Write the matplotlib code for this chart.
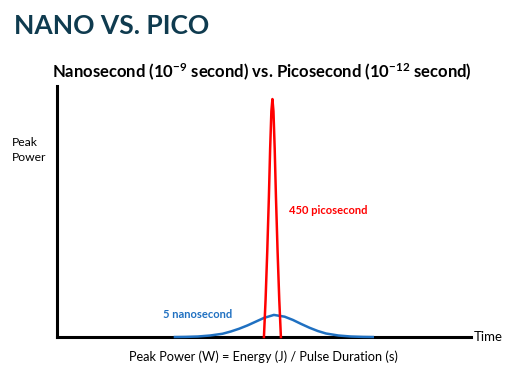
import numpy as np
import matplotlib.pyplot as plt

plt.rcParams['font.family'] = ['Lato', 'DejaVu Sans']
plt.rcParams['mathtext.fontset'] = 'custom'
plt.rcParams['mathtext.rm'] = 'Lato'
plt.rcParams['mathtext.bf'] = 'Lato:bold'

# pulse shapes (time axis 0-100, power axis 0-100)
nano_t = [28.5, 31, 34, 37, 40, 42, 44, 46, 48, 50, 52.4, 55, 57, 59, 61, 63, 65, 68, 71, 74, 76.3]
nano_p = [0.0, 0.05, 0.2, 0.6, 1.3, 2.2, 3.3, 4.6, 6.1, 7.6, 8.8, 8.1, 6.8, 5.2, 3.7, 2.4, 1.4, 0.6, 0.2, 0.05, 0.0]

pico_t = [50.0, 50.4, 50.8, 51.2, 51.5, 51.8, 52.05, 52.3, 52.6, 52.9, 53.3, 53.7, 54.1]
pico_p = [0.0, 15, 34, 56, 75, 90, 94.8, 90, 75, 56, 34, 15, 0.0]

nano_label = '5 nanosecond'
pico_label = '450 picosecond'

fig = plt.figure(figsize=(5.16, 3.67), dpi=100)
ax = fig.add_axes([0.1105, 0.0817, 0.802, 0.684])

ax.plot(nano_t, nano_p, c='#1F70C1', lw=1.8, zorder=3, clip_on=False)
ax.plot(pico_t, pico_p, c='#FF0000', lw=1.8, zorder=4, clip_on=False)

ax.set_xlim(0, 100)
ax.set_ylim(0, 100)
ax.set_xticks([]); ax.set_yticks([])
for s in ['top', 'right']:
    ax.spines[s].set_visible(False)
for s in ['left', 'bottom']:
    ax.spines[s].set_linewidth(2.2)
    ax.spines[s].set_color('black')

ax.text(56, 50.5, pico_label, color='#FF0000', fontsize=8, fontweight='bold', va='center', ha='left')
ax.text(25.5, 9, nano_label, color='#1F70C1', fontsize=8, fontweight='bold', va='center', ha='left')

fig.text(14/516, 1 - 26/367, 'NANO VS. PICO', fontsize=19, fontweight='bold',
         color='#0F3B4F', va='center', ha='left')
fig.text(262/516, 1 - 72/367,
         r'Nanosecond ($\mathbf{10^{-9}}$ second) vs. Picosecond ($\mathbf{10^{-12}}$ second)',
         fontsize=12, fontweight='bold', ha='center', va='center')
fig.text(12/516, 1 - 150/367, 'Peak\nPower', fontsize=8.7, ha='left', va='center', linespacing=1.5)
fig.text(474/516, 1 - 337/367, 'Time', fontsize=9.5, ha='left', va='center')
fig.text(263/516, 1 - 357/367, 'Peak Power (W) = Energy (J) / Pulse Duration (s)',
         fontsize=9.2, ha='center', va='center')

fig.savefig('out.png', dpi=100)
